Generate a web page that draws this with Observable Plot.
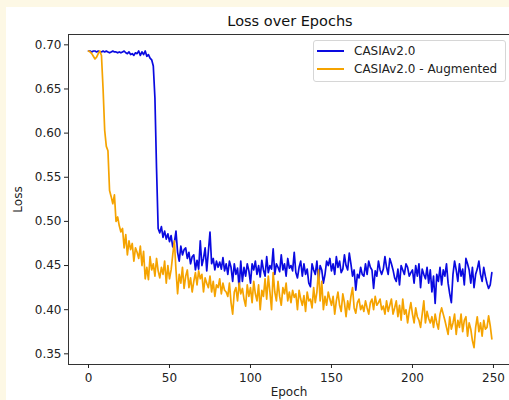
<!DOCTYPE html>
<html>
<head>
<meta charset="utf-8">
<script src="https://cdn.jsdelivr.net/npm/d3@7"></script>
<script src="https://cdn.jsdelivr.net/npm/@observablehq/plot@0.6"></script>
<style>
  html, body { margin: 0; padding: 0; background: #fdf8e5; }
  #wrap { position: relative; width: 509px; height: 400px; overflow: hidden; }
  #paper { position: absolute; left: 6px; top: 7px; width: 503px; height: 393px; background: #ffffff; }
  #chart { position: absolute; left: 0; top: 0; }
  #legend { position: absolute; left: 313px; top: 40px; width: 191px; height: 40px;
    border: 1px solid #d6d6d6; border-radius: 3px; background: rgba(255,255,255,0.85);
    font-family: "DejaVu Sans", sans-serif; font-size: 12px; color: #222; }
  .item { position: absolute; left: 3px; height: 16px; display: flex; align-items: center; }
  .sw { width: 27px; height: 0; border-top: 2px solid; margin-right: 10px; }
</style>
</head>
<body>
<div id="wrap">
  <div id="paper"></div>
  <div id="chart"></div>
  <div id="legend"></div>
</div>
<script>
const title = "Loss over Epochs";
const xLabel = "Epoch";
const yLabel = "Loss";
const seriesNames = ["CASIAv2.0", "CASIAv2.0 - Augmented"];
const seriesColors = ["#0a0ae0", "#f5a300"];
const xTicks = [0, 50, 100, 150, 200, 250];
const yTicks = [0.35, 0.40, 0.45, 0.50, 0.55, 0.60, 0.65, 0.70];

const casiaLoss = [
  0.693,0.693,0.692,0.693,0.693,0.692,0.693,0.692,0.692,0.693,
  0.692,0.693,0.692,0.691,0.692,0.693,0.692,0.692,0.691,0.692,
  0.691,0.692,0.693,0.691,0.690,0.692,0.689,0.690,0.688,0.691,
  0.690,0.693,0.688,0.692,0.689,0.693,0.687,0.689,0.685,0.683,
  0.676,0.640,0.560,0.492,0.487,0.494,0.482,0.489,0.480,0.486,
  0.477,0.484,0.471,0.476,0.489,0.465,0.455,0.472,0.462,0.468,
  0.470,0.458,0.465,0.452,0.460,0.462,0.445,0.456,0.446,0.478,
  0.450,0.458,0.470,0.444,0.466,0.488,0.452,0.458,0.445,0.455,
  0.448,0.454,0.446,0.459,0.444,0.452,0.440,0.455,0.448,0.432,
  0.452,0.440,0.447,0.425,0.455,0.432,0.448,0.438,0.452,0.444,
  0.430,0.452,0.445,0.455,0.440,0.450,0.437,0.456,0.445,0.438,
  0.460,0.442,0.450,0.446,0.469,0.440,0.452,0.448,0.443,0.462,
  0.445,0.452,0.438,0.458,0.447,0.450,0.444,0.465,0.442,0.436,
  0.448,0.455,0.438,0.452,0.440,0.446,0.430,0.426,0.452,0.445,
  0.440,0.455,0.432,0.450,0.445,0.430,0.440,0.455,0.450,0.458,
  0.444,0.452,0.440,0.460,0.448,0.455,0.442,0.446,0.462,0.450,
  0.445,0.464,0.452,0.438,0.445,0.422,0.440,0.436,0.448,0.440,
  0.438,0.452,0.440,0.455,0.448,0.445,0.424,0.444,0.438,0.455,
  0.445,0.440,0.446,0.460,0.448,0.440,0.458,0.452,0.445,0.436,
  0.432,0.446,0.428,0.450,0.445,0.440,0.452,0.448,0.438,0.442,
  0.445,0.430,0.450,0.438,0.452,0.425,0.446,0.440,0.435,0.448,
  0.430,0.445,0.420,0.438,0.407,0.440,0.432,0.448,0.428,0.445,
  0.438,0.452,0.430,0.418,0.408,0.440,0.455,0.445,0.432,0.452,
  0.438,0.446,0.428,0.458,0.452,0.445,0.430,0.448,0.425,0.440,
  0.446,0.455,0.440,0.432,0.448,0.438,0.430,0.424,0.428,0.442
];

const augmentedLoss = [
  0.693,0.692,0.690,0.687,0.684,0.686,0.690,0.693,0.688,0.650,
  0.603,0.585,0.580,0.535,0.528,0.520,0.530,0.500,0.505,0.495,
  0.488,0.492,0.470,0.485,0.462,0.478,0.468,0.475,0.455,0.470,
  0.465,0.458,0.472,0.450,0.466,0.435,0.448,0.434,0.460,0.445,
  0.452,0.438,0.458,0.444,0.436,0.448,0.440,0.455,0.430,0.450,
  0.435,0.445,0.462,0.478,0.445,0.418,0.440,0.430,0.448,0.424,
  0.438,0.445,0.425,0.436,0.420,0.432,0.442,0.428,0.444,0.435,
  0.440,0.420,0.436,0.430,0.425,0.438,0.420,0.432,0.415,0.428,
  0.425,0.435,0.418,0.430,0.422,0.420,0.415,0.430,0.408,0.395,
  0.420,0.425,0.410,0.430,0.418,0.424,0.412,0.404,0.428,0.415,
  0.425,0.408,0.432,0.418,0.410,0.428,0.400,0.422,0.415,0.435,
  0.412,0.438,0.420,0.400,0.442,0.420,0.410,0.432,0.415,0.405,
  0.425,0.418,0.430,0.410,0.420,0.408,0.422,0.414,0.418,0.400,
  0.422,0.412,0.405,0.416,0.398,0.420,0.410,0.412,0.402,0.425,
  0.408,0.420,0.445,0.410,0.432,0.400,0.415,0.405,0.420,0.412,
  0.405,0.415,0.395,0.410,0.420,0.405,0.398,0.418,0.408,0.392,
  0.410,0.400,0.415,0.425,0.402,0.396,0.408,0.412,0.400,0.405,
  0.398,0.410,0.402,0.395,0.408,0.412,0.400,0.415,0.405,0.408,
  0.412,0.400,0.404,0.395,0.410,0.398,0.405,0.412,0.395,0.402,
  0.410,0.392,0.405,0.388,0.412,0.395,0.400,0.385,0.398,0.408,
  0.395,0.385,0.402,0.392,0.388,0.380,0.395,0.410,0.385,0.398,
  0.390,0.385,0.392,0.380,0.395,0.385,0.378,0.395,0.402,0.395,
  0.388,0.380,0.372,0.392,0.378,0.385,0.395,0.372,0.388,0.380,
  0.395,0.375,0.388,0.392,0.370,0.385,0.378,0.365,0.357,0.380,
  0.392,0.375,0.385,0.370,0.388,0.378,0.380,0.393,0.382,0.367
];

const xDomain = [-12.35, 259.9];
const yDomain = [0.3379, 0.7117];

const rows = [];
casiaLoss.forEach((v, i) => rows.push({epoch: i, loss: v, series: seriesNames[0]}));
augmentedLoss.forEach((v, i) => rows.push({epoch: i, loss: v, series: seriesNames[1]}));

const chart = Plot.plot({
  width: 509,
  height: 400,
  marginLeft: 68,
  marginRight: 0,
  marginTop: 34,
  marginBottom: 36,
  style: {background: "transparent", fontFamily: "DejaVu Sans, sans-serif", fontSize: "12px", color: "#222"},
  x: {domain: xDomain},
  y: {domain: yDomain},
  color: {domain: seriesNames, range: seriesColors},
  marks: [
    Plot.line(rows, {x: "epoch", y: "loss", z: "series", stroke: "series", strokeWidth: 1.7}),
    Plot.ruleY([yDomain[1]], {stroke: "#333", strokeWidth: 1}),
    Plot.ruleY([yDomain[0]], {stroke: "#333", strokeWidth: 1}),
    Plot.ruleX([xDomain[0]], {stroke: "#333", strokeWidth: 1}),
    Plot.axisX({ticks: xTicks, tickFormat: d => String(d), tickSize: 4, tickPadding: 5,
      label: xLabel, labelAnchor: "center", labelOffset: 31, labelArrow: "none"}),
    Plot.axisY({ticks: yTicks, tickFormat: d => d.toFixed(2), tickSize: 4, tickPadding: 3,
      label: yLabel, labelAnchor: "center", labelOffset: 55, labelArrow: "none"}),
    Plot.text([title], {frameAnchor: "top", lineAnchor: "middle", dy: -13, dx: 1, fontSize: 14.5, fill: "#111"})
  ]
});
document.getElementById("chart").appendChild(chart);

const legend = document.getElementById("legend");
seriesNames.forEach((name, i) => {
  const item = document.createElement("div");
  item.className = "item";
  item.style.top = (2 + i * 18) + "px";
  const sw = document.createElement("span");
  sw.className = "sw";
  sw.style.borderTopColor = seriesColors[i];
  const label = document.createElement("span");
  label.textContent = name;
  item.appendChild(sw);
  item.appendChild(label);
  legend.appendChild(item);
});
</script>
</body>
</html>
